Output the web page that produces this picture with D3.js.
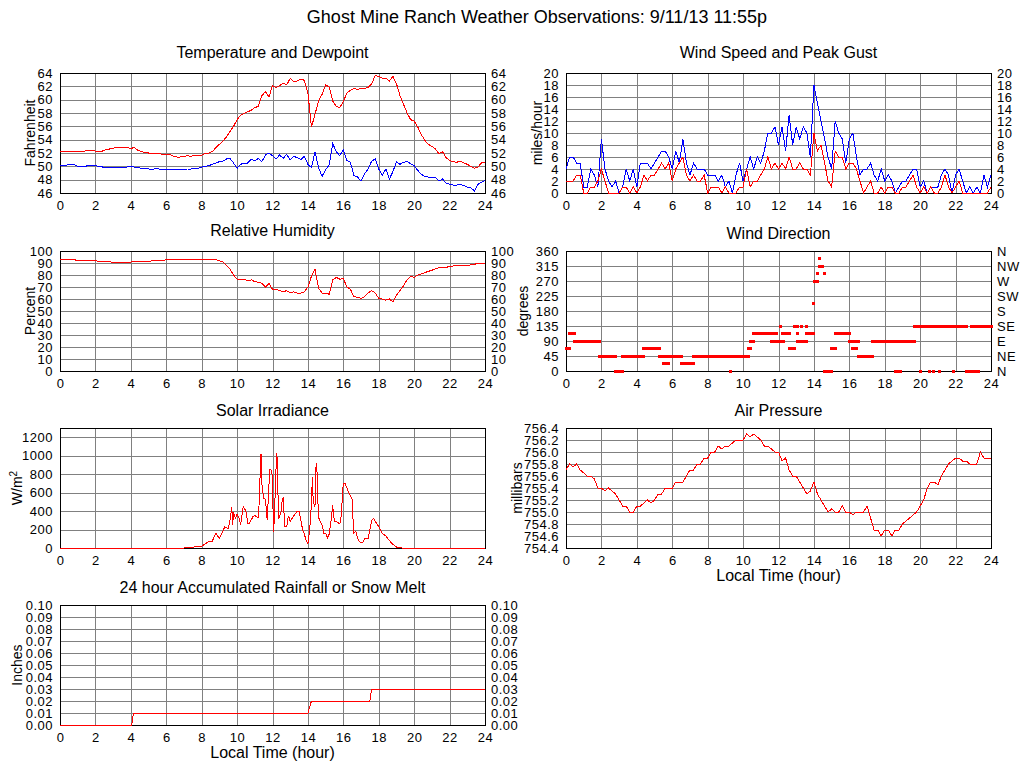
<!DOCTYPE html>
<html>
<head>
<meta charset="utf-8">
<script src="https://cdnjs.cloudflare.com/ajax/libs/d3/7.8.5/d3.min.js"></script>
<style>
  body { margin: 0; background: #fff; }
</style>
</head>
<body>
<div id="chart"></div>
<script>
(function() {

    // Observations sampled every 0.2 hour, from 0:00 to 24:00 (121 values)
    var temperature = [
        52.3,52.2,52.3,52.3,52.3,52.3,52.3,52.3,52.4,52.4,
        52.3,52.3,52.3,52.5,52.6,52.7,52.9,52.9,52.9,52.8,
        52.7,52.8,52.4,52.2,52.1,52.0,52.0,51.9,51.9,51.8,
        51.8,51.8,51.5,51.4,51.4,51.5,51.6,51.5,51.7,51.7,
        51.7,51.9,52.0,52.2,52.8,53.3,53.8,54.4,55.2,56.0,
        57.0,57.7,57.9,58.2,58.4,58.8,59.0,60.6,61.2,60.4,
        62.1,61.8,62.1,62.5,62.2,63.2,62.7,62.8,63.1,62.9,
        61.0,55.9,57.8,59.8,60.8,62.2,61.9,59.8,59.0,58.8,
        59.7,61.0,61.4,61.7,61.5,61.7,61.7,61.8,62.4,63.6,
        63.5,63.2,63.2,62.8,63.5,62.4,60.6,59.3,58.0,57.0,
        56.8,55.9,54.8,53.9,53.3,53.0,52.6,51.9,52.2,51.3,
        50.9,50.7,50.6,50.8,50.5,50.3,50.0,49.7,49.9,50.5,
        50.6
    ];

    var dewpoint = [
        50.2,50.2,50.2,50.3,50.3,50.0,50.0,50.0,50.1,50.1,
        50.1,50.0,49.9,49.9,49.9,49.9,49.9,49.9,49.9,49.9,
        50.0,49.9,49.8,49.7,49.7,49.6,49.5,49.7,49.6,49.5,
        49.5,49.6,49.5,49.5,49.5,49.5,49.6,49.6,49.7,49.7,
        49.9,50.0,50.1,50.3,50.5,50.7,50.8,51.1,51.2,50.5,
        49.7,50.3,50.5,50.5,51.1,50.8,51.2,50.7,51.7,52.0,
        51.6,51.1,51.7,51.2,51.8,51.0,51.5,51.3,51.0,51.5,
        50.3,49.8,52.2,49.8,48.5,49.5,50.2,53.4,52.2,51.6,
        52.5,50.9,50.6,48.6,48.4,47.8,48.9,49.6,50.8,51.1,
        49.6,48.7,49.6,48.1,49.2,50.7,50.3,50.6,50.7,50.4,
        50.1,49.4,48.8,48.5,48.4,48.4,48.3,47.8,48.1,47.5,
        47.3,47.2,47.2,47.3,47.1,46.9,46.8,46.3,47.3,47.6,
        47.9
    ];

    var peakGust = [
        4,6,6,5,5,1,1,4,3,1,
        9,4,2,1,2,0,1,4,2,4,
        1,5,5,5,4,5,6,7,7,6,
        4,7,5,9,5,3,5,4,4,4,
        3,3,3,2,3,1,2,0,3,5,
        2,4,6,4,6,5,7,10,10,11,
        8,11,7,13,8,11,9,11,10,6,
        18,15,12,9,6,4,12,10,9,5,
        9,10,6,3,4,4,5,3,2,4,
        2,3,2,0,1,2,2,3,4,4,
        1,2,0,1,1,1,3,4,3,0,
        3,4,2,0,1,0,1,0,3,1,
        3
    ];

    var windSpeed = [
        2,2,2,3,3,0,0,1,1,2,
        4,2,0,0,0,0,1,1,0,1,
        0,1,3,2,3,3,4,5,4,5,
        2,4,5,6,3,2,3,2,2,3,
        0,1,1,1,0,1,0,0,0,1,
        1,4,1,2,2,3,4,6,4,5,
        4,5,4,6,4,4,5,4,4,3,
        10,7,8,5,2,1,7,6,6,4,
        5,5,4,2,0,1,2,0,0,1,
        0,1,1,0,0,1,1,2,3,1,
        0,1,0,1,0,0,1,3,1,0,
        1,2,0,0,0,0,0,0,0,0,
        1
    ];

    var humidity = [
        92.8,92.8,92.8,92.8,92.8,92,92,92,92,92,
        92,91.1,91.1,91.1,91.1,90.3,90.3,90.3,90.3,90.3,
        90.8,91.1,91.1,91.1,91.1,91.1,92,92,92,92,
        92.8,92.8,92.8,92.8,92.8,92.8,92.8,92.8,92.8,92.8,
        92.8,92.8,92.8,92.8,92.8,91.8,91,88,85,80,
        76.5,76.5,76.5,75,76,74.5,74,73,70,73,
        68,68,67,66,67,65,66,65,65,66,
        70,79,85,69,65,65,64,76,78,76.5,
        77,70,68,62,61.5,60.5,62,65,67,65,
        60.5,60,59,60,57.5,63,67,71,76,79,
        78,80,81,82,83,84,85,86,86,86,
        87.5,87.5,88,88,88,88,88.5,89,89.5,89.5,
        90
    ];

    var pressure = [
        755.7,755.8,755.75,755.8,755.7,755.65,755.6,755.6,755.55,755.4,
        755.4,755.35,755.4,755.35,755.3,755.2,755.1,755.1,755.0,755.0,
        755.1,755.1,755.15,755.2,755.15,755.2,755.3,755.3,755.4,755.4,
        755.4,755.5,755.5,755.5,755.6,755.7,755.7,755.8,755.8,755.9,
        755.9,756.0,756.0,756.1,756.05,756.1,756.1,756.15,756.2,756.2,
        756.2,756.3,756.25,756.3,756.25,756.2,756.1,756.1,756.05,756.0,
        756.0,755.85,755.9,755.7,755.6,755.6,755.5,755.4,755.3,755.35,
        755.5,755.3,755.2,755.1,755.0,755.05,755.0,755.0,755.1,755.0,
        755.0,754.95,755.0,755.0,755.0,755.1,754.9,754.7,754.7,754.6,
        754.7,754.7,754.6,754.7,754.7,754.8,754.85,754.9,754.95,755.0,
        755.1,755.2,755.4,755.5,755.5,755.45,755.6,755.7,755.8,755.85,
        755.9,755.9,755.85,755.85,755.8,755.8,755.8,756.0,755.9,755.9,
        755.9
    ];

    // Solar irradiance is spiky, so it keeps its own time stamps
    var solarHours = [
        0,7.0,7.1,7.4,7.8,8.0,8.2,8.4,8.6,8.8,8.9,9.0,9.2,9.3,9.5,9.6,9.7,9.75,9.8,9.9,
        10.0,10.1,10.2,10.35,10.5,10.6,10.7,10.9,11.0,11.2,11.25,11.3,11.35,11.4,11.5,11.6,11.7,11.8,11.85,11.95,
        12.0,12.05,12.1,12.2,12.25,12.3,12.35,12.5,12.55,12.6,12.7,12.8,12.9,13.0,13.1,13.2,13.4,13.5,13.6,13.7,
        13.8,13.9,14.0,14.1,14.2,14.25,14.3,14.4,14.45,14.5,14.55,14.6,14.8,14.9,15.0,15.1,15.2,15.3,15.4,15.45,
        15.5,15.6,15.8,15.9,15.95,16.0,16.1,16.3,16.5,16.55,16.6,16.7,16.8,16.9,17.0,17.1,17.2,17.4,17.5,17.6,
        17.7,17.8,18.0,18.2,18.4,18.6,18.8,19.0,19.2,19.3,24
    ];
    var solarValues = [
        0,0,5,8,15,20,45,70,75,160,130,110,180,230,210,300,440,250,390,320,
        370,330,250,450,400,270,270,340,350,330,500,780,1020,700,540,530,300,680,850,840,
        760,170,300,870,1030,650,310,400,530,540,230,230,350,290,320,350,400,400,300,200,
        150,80,50,200,480,770,500,450,870,920,570,330,250,160,160,110,150,280,460,350,
        290,290,260,370,600,700,700,600,530,300,160,180,110,70,60,60,100,100,200,300,
        320,290,230,160,130,80,40,10,5,0,0
    ];

    // Accumulated rainfall steps
    var rainHours = [0, 4.05, 4.15, 14.0, 14.2, 17.5, 17.6, 24];
    var rainValues = [0, 0, 0.01, 0.01, 0.02, 0.02, 0.03, 0.03];

    // Wind direction runs: [start hour, end hour, degrees]
    var windDirRuns = [
        [0.0,0.2,67.5],[0.2,0.5,112.5],[0.5,1.9,90],[1.9,2.8,45],[2.8,3.2,0],
        [3.2,4.4,45],[4.4,5.3,67.5],[5.3,5.5,45],[5.5,5.6,22.5],[5.6,5.75,45],
        [5.75,5.8,22.5],[5.8,6.5,45],[6.5,7.2,22.5],[7.2,10.3,45],[9.3,9.3,0],
        [10.3,10.4,67.5],[10.4,10.6,90],[10.6,11.6,112.5],[11.6,11.8,90],[11.8,11.9,112.5],
        [11.9,12.1,90],[12.1,12.1,135],[12.2,12.6,112.5],[12.3,12.3,90],[12.6,12.9,67.5],
        [12.9,13.05,135],[13.1,13.1,112.5],[13.1,13.6,90],[13.3,13.3,135],[13.6,13.6,135],
        [13.6,13.95,112.5],[14.0,14.0,202.5],[14.05,14.2,270],[14.2,14.2,292.5],[14.3,14.3,337.5],
        [14.3,14.5,315],[14.6,14.6,292.5],[14.6,15.0,0],[15.0,15.2,67.5],[15.2,16.0,112.5],
        [16.0,16.5,90],[16.2,16.4,67.5],[16.5,17.3,45],[17.3,18.7,90],[18.6,18.9,0],
        [18.9,19.7,90],[19.7,21.1,135],[20.0,20.0,0],[20.5,20.5,0],[20.75,20.75,0],
        [21.1,21.1,0],[21.2,22.6,135],[21.9,21.9,0],[22.6,23.3,0],[22.9,24.0,135]
    ];

    var hourTicks = [0,2,4,6,8,10,12,14,16,18,20,22,24];
    var tempTicks = [46,48,50,52,54,56,58,60,62,64];
    var windTicks = [0,2,4,6,8,10,12,14,16,18,20];
    var humidityTicks = [0,10,20,30,40,50,60,70,80,90,100];
    var directionTicks = [0,45,90,135,180,225,270,315,360];
    var compassLabels = ["N","NE","E","SE","S","SW","W","NW","N"];
    var solarTicks = [0,200,400,600,800,1000,1200];
    var pressureTicks = [754.4,754.6,754.8,755.0,755.2,755.4,755.6,755.8,756.0,756.2,756.4];
    var rainTicks = [0,0.01,0.02,0.03,0.04,0.05,0.06,0.07,0.08,0.09,0.10];

    var sampleHours = temperature.map(function(d, i) { return i * 0.2; });

    var plotW = 425, plotH = 120;
    var red = "#ff0000", blue = "#0000ff";

    var svg = d3.select("#chart")
        .append("svg")
        .attr("width", 1024)
        .attr("height", 768)
        .style("font-family", '"Liberation Sans", Arial, sans-serif');

    svg.append("text")
        .attr("x", 537)
        .attr("y", 23)
        .attr("text-anchor", "middle")
        .attr("font-size", 18)
        .text("Ghost Mine Ranch Weather Observations: 9/11/13 11:55p");

    function styleAxis(sel) {
        sel.attr("font-size", 13).attr("font-family", null);
        sel.select(".domain").remove();
        sel.selectAll(".tick line")
            .attr("stroke", "#808080")
            .attr("shape-rendering", "crispEdges");
        sel.selectAll(".tick text")
            .attr("fill", "#000")
            .attr("letter-spacing", 0.5);
    }

    function drawPanel(p) {
        var x = d3.scaleLinear().domain([0, 24]).range([p.left, p.left + plotW]);
        var y = d3.scaleLinear().domain(p.domain).range([p.top + plotH, p.top]);
        var g = svg.append("g");

        // horizontal grid and left labels
        g.append("g")
            .attr("transform", "translate(" + p.left + ",0)")
            .call(d3.axisLeft(y).tickValues(p.ticks).tickFormat(p.format)
                .tickSize(-plotW).tickPadding(7))
            .call(styleAxis);

        // vertical grid and hour labels
        g.append("g")
            .attr("transform", "translate(0," + (p.top + plotH) + ")")
            .call(d3.axisBottom(x).tickValues(hourTicks).tickSize(-plotH).tickPadding(8))
            .call(styleAxis);

        if (p.rightFormat) {
            g.append("g")
                .attr("transform", "translate(" + (p.left + plotW) + ",0)")
                .call(d3.axisRight(y).tickValues(p.ticks).tickFormat(p.rightFormat)
                    .tickSize(0).tickPadding(6))
                .call(styleAxis);
        }

        g.append("rect")
            .attr("x", p.left + 0.5)
            .attr("y", p.top + 0.5)
            .attr("width", plotW)
            .attr("height", plotH)
            .attr("fill", "none")
            .attr("stroke", "#000")
            .attr("shape-rendering", "crispEdges");

        g.append("text")
            .attr("x", p.left + plotW / 2)
            .attr("y", p.titleY)
            .attr("text-anchor", "middle")
            .attr("font-size", 16)
            .text(p.title);

        var yt = g.append("text")
            .attr("transform", "translate(" + p.yTitleX + "," + (p.top + plotH / 2) + ") rotate(-90)")
            .attr("text-anchor", "middle")
            .attr("font-size", 14)
            .text(p.yTitle);
        if (p.yTitleSup) {
            yt.append("tspan")
                .attr("font-size", 10)
                .attr("baseline-shift", "super")
                .text(p.yTitleSup);
        }

        if (p.xTitle) {
            g.append("text")
                .attr("x", p.left + plotW / 2)
                .attr("y", p.top + plotH + 33)
                .attr("text-anchor", "middle")
                .attr("font-size", 16)
                .text(p.xTitle);
        }

        return { x: x, y: y, g: g };
    }

    function drawLine(pn, hours, values, color) {
        var line = d3.line()
            .x(function(d, i) { return pn.x(hours[i]); })
            .y(function(d) { return pn.y(d); });
        pn.g.append("path")
            .datum(values)
            .attr("d", line)
            .attr("fill", "none")
            .attr("stroke", color)
            .attr("stroke-width", 1)
            .attr("shape-rendering", "crispEdges");
    }

    var fmtInt = d3.format("d");

    // Temperature and Dewpoint
    var tempPanel = drawPanel({
        left: 60, top: 73, domain: [46, 64], ticks: tempTicks,
        format: fmtInt, rightFormat: fmtInt,
        title: "Temperature and Dewpoint", titleY: 58,
        yTitle: "Fahrenheit", yTitleX: 35
    });
    drawLine(tempPanel, sampleHours, temperature, red);
    drawLine(tempPanel, sampleHours, dewpoint, blue);

    // Wind Speed and Peak Gust
    var windPanel = drawPanel({
        left: 566, top: 73, domain: [0, 20], ticks: windTicks,
        format: fmtInt, rightFormat: fmtInt,
        title: "Wind Speed and Peak Gust", titleY: 58,
        yTitle: "miles/hour", yTitleX: 542
    });
    drawLine(windPanel, sampleHours, peakGust, blue);
    drawLine(windPanel, sampleHours, windSpeed, red);

    // Relative Humidity
    var humPanel = drawPanel({
        left: 60, top: 251, domain: [0, 100], ticks: humidityTicks,
        format: fmtInt, rightFormat: fmtInt,
        title: "Relative Humidity", titleY: 236,
        yTitle: "Percent", yTitleX: 35
    });
    drawLine(humPanel, sampleHours, humidity, red);

    // Wind Direction
    var dirPanel = drawPanel({
        left: 566, top: 251, domain: [0, 360], ticks: directionTicks,
        format: fmtInt,
        rightFormat: function(d) { return compassLabels[directionTicks.indexOf(d)]; },
        title: "Wind Direction", titleY: 239,
        yTitle: "degrees", yTitleX: 528
    });
    dirPanel.g.selectAll("rect.obs")
        .data(windDirRuns)
        .enter().append("rect")
        .attr("class", "obs")
        .attr("x", function(d) { return dirPanel.x(d[0]) - 1.5; })
        .attr("width", function(d) { return dirPanel.x(d[1]) - dirPanel.x(d[0]) + 3; })
        .attr("y", function(d) { return dirPanel.y(d[2]) - 1.5; })
        .attr("height", 3)
        .attr("fill", red)
        .attr("shape-rendering", "crispEdges");

    // Solar Irradiance
    var solarPanel = drawPanel({
        left: 60, top: 428, domain: [0, 1300], ticks: solarTicks,
        format: fmtInt,
        title: "Solar Irradiance", titleY: 416,
        yTitle: "W/m", yTitleSup: "2", yTitleX: 22
    });
    drawLine(solarPanel, solarHours, solarValues, red);

    // Air Pressure
    var pressPanel = drawPanel({
        left: 566, top: 428, domain: [754.4, 756.4], ticks: pressureTicks,
        format: d3.format(".1f"),
        title: "Air Pressure", titleY: 416,
        yTitle: "millibars", yTitleX: 522,
        xTitle: "Local Time (hour)"
    });
    drawLine(pressPanel, sampleHours, pressure, red);

    // Rainfall
    var rainPanel = drawPanel({
        left: 60, top: 605, domain: [0, 0.10], ticks: rainTicks,
        format: d3.format(".2f"), rightFormat: d3.format(".2f"),
        title: "24 hour Accumulated Rainfall or Snow Melt", titleY: 593,
        yTitle: "Inches", yTitleX: 22,
        xTitle: "Local Time (hour)"
    });
    drawLine(rainPanel, rainHours, rainValues, red);

})();
</script>
</body>
</html>
